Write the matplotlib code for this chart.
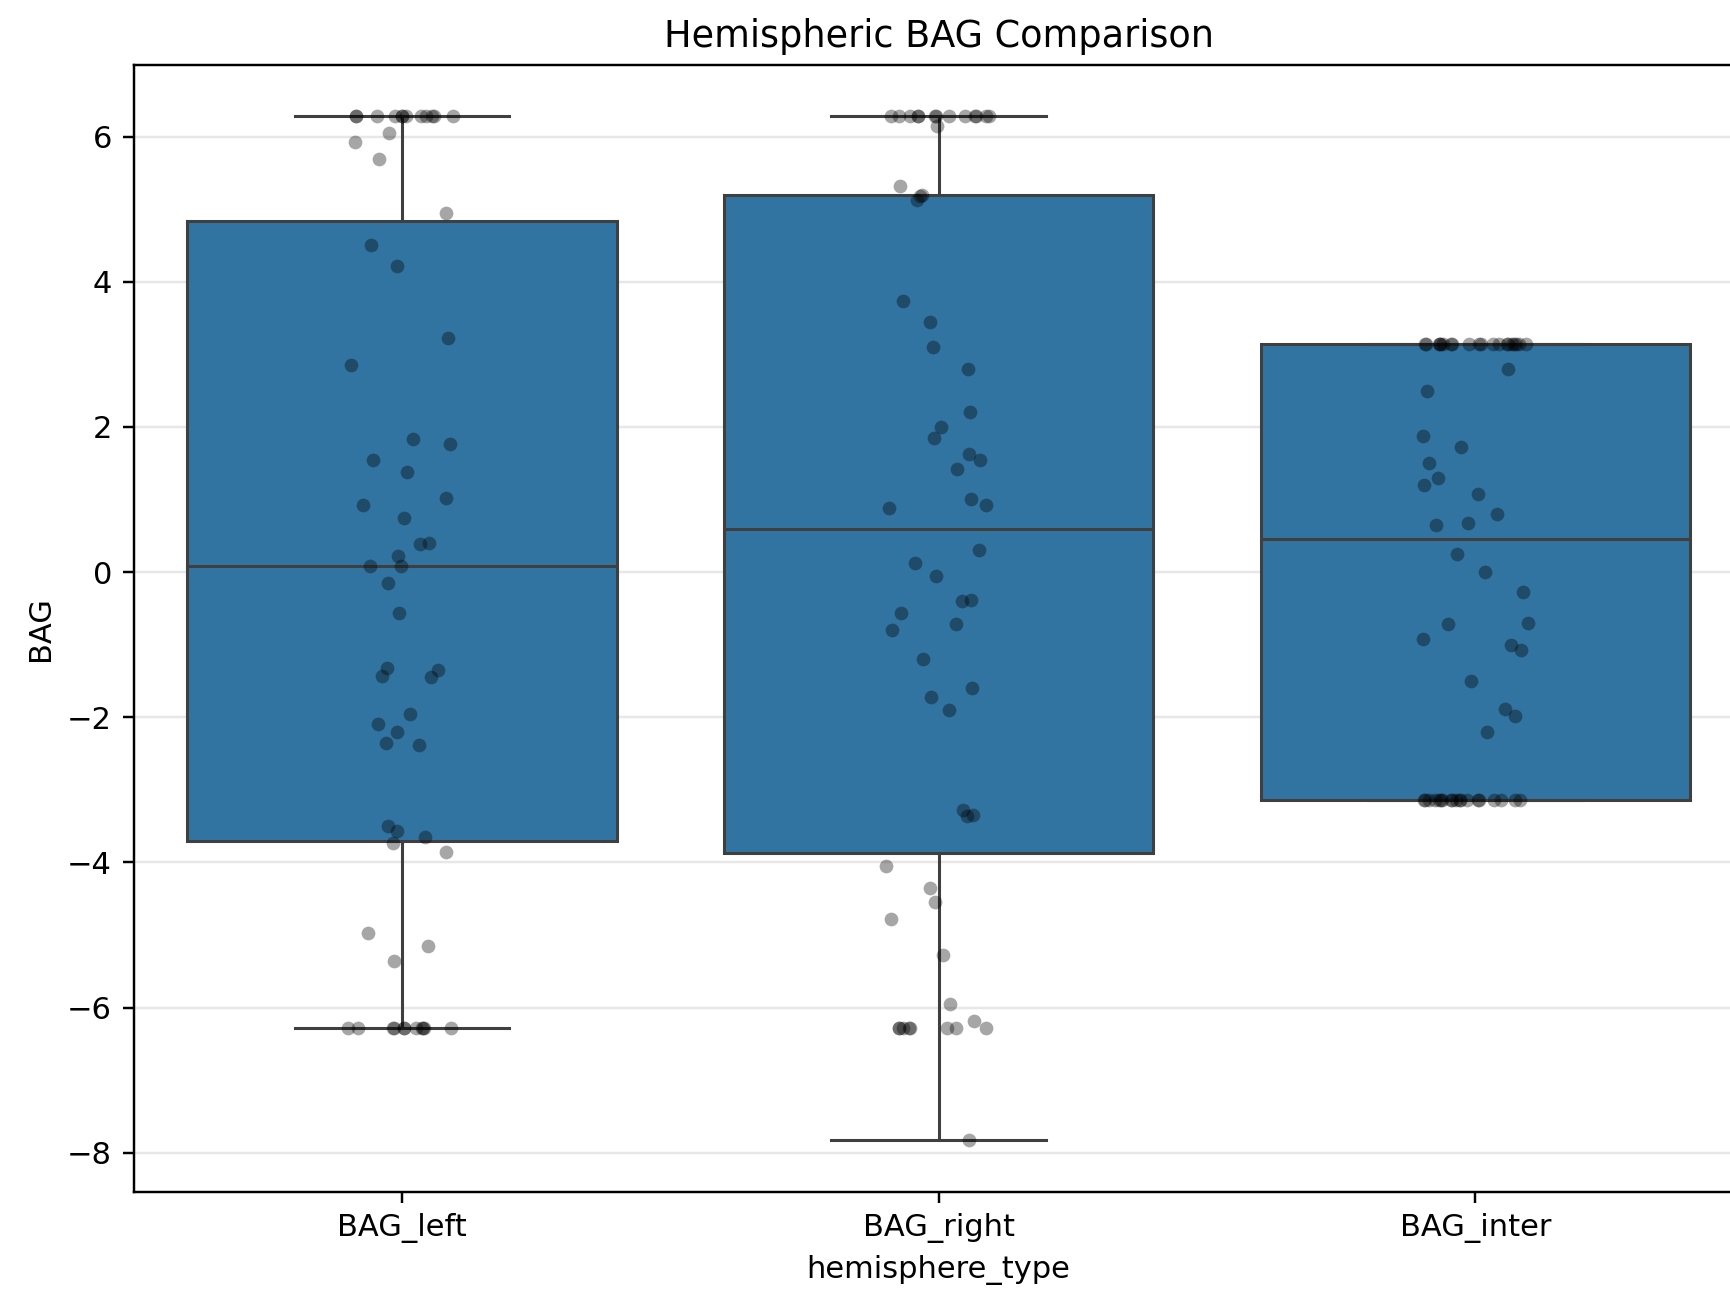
import numpy as np
import pandas as pd
import matplotlib
matplotlib.use("Agg")
import matplotlib.pyplot as plt
import seaborn as sns

categories = ["BAG_left", "BAG_right", "BAG_inter"]

bag_left = ([6.28] * 12 + [6.05, 5.93, 5.69, 4.95, 4.51, 4.22, 3.22, 2.85, 1.83, 1.76,
            1.55, 1.38, 1.02, 0.93, 0.75, 0.40, 0.38, 0.22, 0.09, 0.08, -0.15, -0.57,
            -1.32, -1.35, -1.45, -1.43, -1.95, -2.10, -2.20, -2.35, -2.38, -3.50, -3.57,
            -3.65, -3.73, -3.85, -4.97, -5.15, -5.36] + [-6.28] * 11)

bag_right = ([6.28] * 13 + [6.15, 5.32, 5.20, 5.18, 5.12, 3.73, 3.45, 3.10, 2.80, 2.20,
             2.00, 1.85, 1.62, 1.55, 1.42, 1.00, 0.93, 0.88, 0.30, 0.12, -0.05, -0.38,
             -0.40, -0.57, -0.72, -0.80, -1.20, -1.60, -1.72, -1.90, -3.28, -3.35, -3.36,
             -4.05, -4.35, -4.55, -4.78, -5.28, -5.95, -6.18] + [-6.28] * 8 + [-7.83])

bag_inter = ([3.14] * 20 + [2.80, 2.50, 1.88, 1.72, 1.50, 1.30, 1.20, 1.08, 0.80, 0.67,
             0.65, 0.25, 0.00, -0.27, -0.70, -0.72, -0.92, -1.00, -1.08, -1.50, -1.88,
             -1.98, -2.20] + [-3.14] * 19)

df = pd.DataFrame({
    "hemisphere_type": [categories[0]] * len(bag_left) + [categories[1]] * len(bag_right)
                       + [categories[2]] * len(bag_inter),
    "BAG": bag_left + bag_right + bag_inter,
})

np.random.seed(7)

DPI = 220
fig = plt.figure(figsize=(1730 / DPI, 1291 / DPI), dpi=DPI)
ax = fig.add_axes([133.5 / 1730, 1 - 1191.6 / 1291, (1743.8 - 133.5) / 1730, (1191.6 - 65) / 1291])

sns.boxplot(data=df, x="hemisphere_type", y="BAG", order=categories, ax=ax, showfliers=False)
sns.stripplot(data=df, x="hemisphere_type", y="BAG", order=categories, ax=ax,
              color="black", alpha=0.35, jitter=True, size=4.5)
ax.grid(axis="y", alpha=0.3)
ax.set_axisbelow(True)
ax.set_title("Hemispheric BAG Comparison", fontsize=12)
ax.set_xlabel("hemisphere_type", fontsize=10)
ax.set_ylabel("BAG", fontsize=10)

fig.savefig("out.png", dpi=DPI)
